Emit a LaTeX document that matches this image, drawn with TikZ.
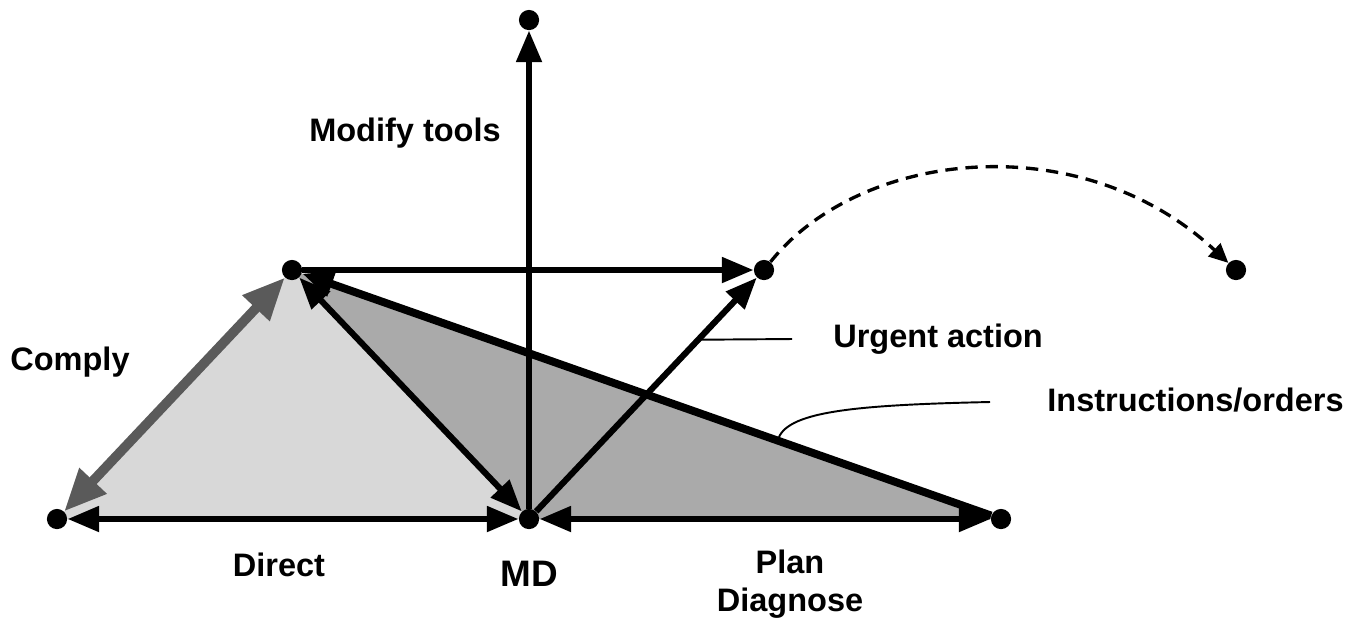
\documentclass[tikz,border=0pt]{standalone}
\usepackage{fontspec}
\setmainfont{Liberation Sans}
\usetikzlibrary{arrows.meta,calc,backgrounds}

\definecolor{lightshade}{HTML}{D8D8D8}
\definecolor{darkshade}{HTML}{AAAAAA}
\definecolor{complygray}{HTML}{5A5A5A}

\begin{document}
\begin{tikzpicture}
	  [x=0.02cm,y=-0.02cm,>={Triangle[length=18pt,width=14pt]},
	   dot/.style={circle,fill,inner sep=0pt,minimum size=11.5pt},
	   lbl/.style={font=\fontsize{18.5}{22}\selectfont\bfseries,inner sep=0pt},
	   link/.style={line width=3.5pt},
	   leader/.style={line width=1.1pt}]
	  \useasboundingbox (0,0) rectangle (1368,627);

	  \node[dot] (top) at (529,20)  {};
	  \node[dot] (ul)  at (292,270) {};
	  \node[dot] (ur)  at (764,270) {};
	  \node[dot] (far) at (1236,270) {};
	  \node[dot] (lb)  at (57,519)  {};
	  \node[dot] (md)  at (529,519) {};
	  \node[dot] (rb)  at (1001,519) {};

	  % shaded triangles
	  \begin{scope}[on background layer]
	    \fill[lightshade] (lb.center) -- (ul.center) -- (md.center) -- cycle;
	    \fill[darkshade] (ul.center) -- (md.center) -- (rb.center) -- cycle;
	  \end{scope}

	  \draw[complygray,line width=5.5pt,{Triangle[length=24pt,width=20pt]}-{Triangle[length=24pt,width=20pt]}] (lb) -- (ul);
	  \draw[line width=4.5pt,<-] (ul) -- (rb);

	  \foreach \from/\to in {lb/md,ul/md,md/rb}
	    \draw[link,<->] (\from) -- (\to);
	  \foreach \from/\to in {md/top,ul/ur,md/ur}
	    \draw[link,->] (\from) -- (\to);

	  \draw[line width=1.9pt,dash pattern=on 7pt off 4.5pt,->,>={Triangle[length=11pt,width=10pt]}]
	    (ur) .. controls (860,150) and (1080,125) .. (far);

	  % labels
	  \node[lbl] (modify) at (405,133) {Modify tools};
	  \node[lbl] (comply) at (70,362)  {Comply};
	  \node[lbl] (direct) at (279,565) {Direct};
	  \node[lbl,font=\fontsize{21}{24}\selectfont\bfseries] (mdlbl) at (529,574) {MD};
	  \node[lbl,align=center,font=\fontsize{18.5}{21.5}\selectfont\bfseries] (plan) at (790,584) {Plan\\Diagnose};
	  \node[lbl,anchor=west] (urgent) at (833,339) {Urgent action};
	  \node[lbl,anchor=west] (instr) at (1047,400) {Instructions/orders};

	  \draw[leader] ($(md)!0.72!(ur)$) -- ($(urgent.west)+(-41,0)$);
	  \draw[leader] ($(ul)!0.685!(rb)$) .. controls (785,412) and (850,405) .. ($(instr.west)+(-57,2)$);
	\end{tikzpicture}
\end{document}
